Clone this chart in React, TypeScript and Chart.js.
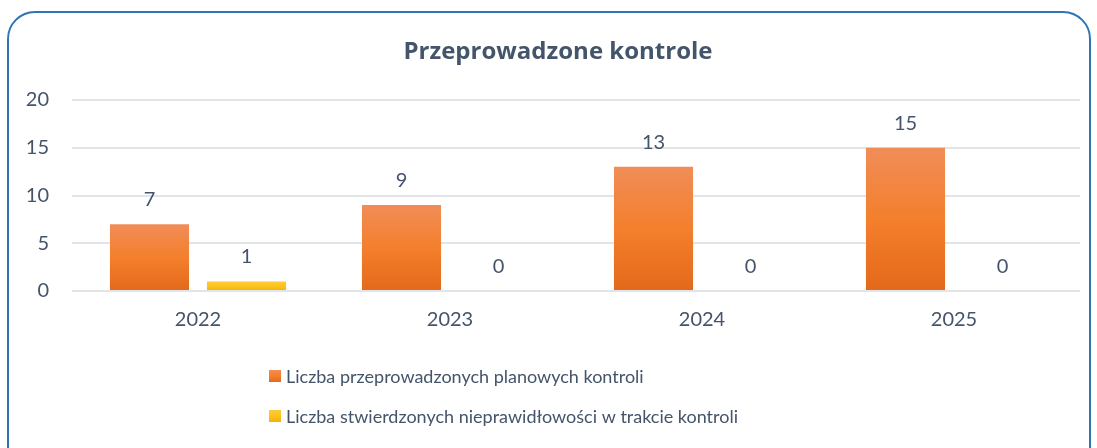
import React, { useEffect, useRef } from 'react';
import { Chart, registerables } from 'chart.js';

Chart.register(...registerables);

const categories = ['2022', '2023', '2024', '2025'];
const plannedControls = [7, 9, 13, 15];
const irregularities = [1, 0, 0, 0];
const seriesLabels = [
  'Liczba przeprowadzonych planowych kontroli',
  'Liczba stwierdzonych nieprawidłowości w trakcie kontroli',
];
const chartTitle = 'Przeprowadzone kontrole';
const yMin = 0;
const yMax = 20;
const yStep = 5;

const FONT = 'Lato, "Open Sans", sans-serif';
const TITLE_FONT = '"Open Sans", Lato, sans-serif';
const TEXT = '#44546a';
const ORANGE_STOPS = ['#f08d58', '#f47f2c', '#e3691a'];
const YELLOW_STOPS = ['#fdca3a', '#fcc21f', '#f3b300'];

function makeGradient(ctx: CanvasRenderingContext2D, top: number, bottom: number, stops: string[]) {
  const g = ctx.createLinearGradient(0, top, 0, Math.max(bottom, top + 1));
  g.addColorStop(0, stops[0]);
  g.addColorStop(0.5, stops[1]);
  g.addColorStop(1, stops[2]);
  return g;
}

function barFill(stops: string[]) {
  return (context: any) => {
    const chart = context.chart;
    const yScale = chart.scales?.y;
    if (!chart.chartArea || !yScale || context.parsed == null) return stops[1];
    const v = context.parsed.y ?? 0;
    const top = yScale.getPixelForValue(v);
    const bottom = yScale.getPixelForValue(0);
    return makeGradient(chart.ctx, top, bottom, stops);
  };
}

const titlePlugin = {
  id: 'customTitle',
  afterDraw(chart: any) {
    const ctx = chart.ctx;
    ctx.save();
    ctx.font = `bold 24px ${TITLE_FONT}`;
    ctx.fillStyle = TEXT;
    ctx.textAlign = 'center';
    ctx.textBaseline = 'alphabetic';
    ctx.fillText(chartTitle, 558, 59);
    ctx.restore();
  },
};

const dataLabelsPlugin = {
  id: 'dataLabels',
  afterDatasetsDraw(chart: any) {
    const ctx = chart.ctx;
    ctx.save();
    ctx.font = `20px ${FONT}`;
    ctx.fillStyle = TEXT;
    ctx.textAlign = 'center';
    ctx.textBaseline = 'alphabetic';
    chart.data.datasets.forEach((ds: any, i: number) => {
      const meta = chart.getDatasetMeta(i);
      meta.data.forEach((bar: any, j: number) => {
        ctx.fillText(String(ds.data[j]), bar.x, bar.y - 18);
      });
    });
    ctx.restore();
  },
};

const customLegendPlugin = {
  id: 'customLegend',
  afterDraw(chart: any) {
    const ctx = chart.ctx;
    const stopsList = [ORANGE_STOPS, YELLOW_STOPS];
    const rowsY = [376, 416];
    const boxX = 269;
    const box = 12;
    ctx.save();
    ctx.font = `18px ${FONT}`;
    ctx.textAlign = 'left';
    ctx.textBaseline = 'middle';
    chart.data.datasets.forEach((ds: any, i: number) => {
      const cy = rowsY[i];
      ctx.fillStyle = makeGradient(ctx, cy - box / 2, cy + box / 2, stopsList[i]);
      ctx.fillRect(boxX, cy - box / 2, box, box);
      ctx.fillStyle = TEXT;
      ctx.fillText(ds.label, boxX + box + 5, cy + 1);
    });
    ctx.restore();
  },
};

export default function App() {
  const canvasRef = useRef<HTMLCanvasElement | null>(null);

  useEffect(() => {
    if (!canvasRef.current) return;
    const chart = new Chart(canvasRef.current, {
      type: 'bar',
      data: {
        labels: categories,
        datasets: [
          {
            label: seriesLabels[0],
            data: plannedControls,
            backgroundColor: barFill(ORANGE_STOPS),
            categoryPercentage: 0.77,
            barPercentage: 0.815,
          },
          {
            label: seriesLabels[1],
            data: irregularities,
            backgroundColor: barFill(YELLOW_STOPS),
            categoryPercentage: 0.77,
            barPercentage: 0.815,
          },
        ],
      },
      options: {
        responsive: false,
        animation: false,
        layout: { padding: { left: 0, right: 17, top: 100, bottom: 0 } },
        plugins: {
          legend: { display: false },
          tooltip: { enabled: false },
          title: { display: false },
        },
        scales: {
          x: {
            grid: { display: false },
            border: { display: false },
            ticks: { color: TEXT, font: { family: FONT, size: 20 }, padding: 9 },
            afterFit: (scale: any) => {
              scale.height = 157;
            },
          },
          y: {
            min: yMin,
            max: yMax,
            ticks: { stepSize: yStep, color: TEXT, font: { family: FONT, size: 20 }, padding: 23 },
            grid: { color: '#e1e5ea', lineWidth: 2, drawTicks: false },
            border: { display: false },
            afterFit: (scale: any) => {
              scale.width = 72;
            },
          },
        },
      },
      plugins: [dataLabelsPlugin, customLegendPlugin, titlePlugin],
    });
    return () => chart.destroy();
  }, []);

  return (
    <div style={{ position: 'fixed', inset: 0, overflow: 'hidden', background: '#ffffff' }}>
      <div
        style={{
          position: 'absolute',
          left: 7,
          top: 11,
          width: 1084,
          height: 520,
          border: '2px solid #2e75b6',
          borderRadius: 28,
          boxSizing: 'border-box',
        }}
      />
      <canvas
        ref={canvasRef}
        width={1097}
        height={448}
        style={{ position: 'absolute', left: 0, top: 0, width: 1097, height: 448 }}
      />
    </div>
  );
}
